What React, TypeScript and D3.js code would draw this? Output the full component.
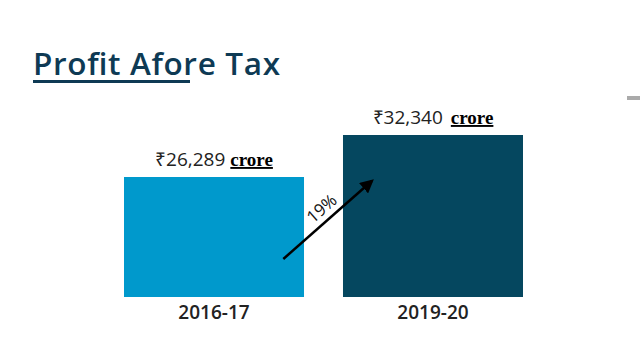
import React from "react";
import * as d3 from "d3";

const categories = ["2016-17", "2019-20"];
const values = [26289, 32340];
const valueLabels = ["₹26,289", "₹32,340"];
const unitLabel = "crore";
const growthLabel = "19%";
const titleText = "Profit Afore Tax";
const colors = ["#0099CC", "#05475F"];

export default function App() {
  const W = 640, H = 360;
  const x = d3.scaleBand().domain(categories).range([124, 523]).paddingInner(0.178).paddingOuter(0);
  const y = d3.scaleLinear().domain([9000, 32340]).range([297, 135]);
  const bw = x.bandwidth();
  const x0 = (x(categories[0]) as number) + bw * 0.885;
  const y0 = y(values[0]) + 82;
  const x1 = (x(categories[1]) as number) + bw * 0.16;
  const y1 = y(values[1]) + 46;
  return (
    <svg width={W} height={H} style={{ position: "absolute", left: 0, top: 0, background: "#fff" }}>
      <defs>
        <marker id="ah" viewBox="0 0 10 10" refX="8" refY="5" markerWidth="5.5" markerHeight="5.5" orient="auto">
          <path d="M0,0 L10,5 L0,10 z" fill="#000" />
        </marker>
      </defs>
      <text x={33} y={75} fontFamily="'Open Sans', sans-serif" fontWeight={600} fontSize={31.5} fill="#0E3A54" textLength={247} lengthAdjust="spacing">{titleText}</text>
      <rect x={33} y={80} width={157} height={3} fill="#0E3A54" />
      <rect x={627} y={96} width={13} height={4} fill="#aaa" />
      {categories.map((c, i) => {
        const bx = x(c) as number;
        const cx = bx + bw / 2;
        return (
          <g key={c}>
            <rect x={bx} y={y(values[i])} width={bw} height={297 - y(values[i])} fill={colors[i]} />
            <text x={cx} y={y(values[i]) - 11} textAnchor="middle" fontSize={19}>
              <tspan fontFamily="'Open Sans', sans-serif" fontWeight={500} fill="#222">{valueLabels[i]}</tspan>
              <tspan fontFamily="'Liberation Serif', serif" fontWeight={700} fill="#000" textDecoration="underline" dx={i === 1 ? 8 : 5}>{unitLabel}</tspan>
            </text>
            <text x={cx} y={319} textAnchor="middle" fontFamily="'Open Sans', sans-serif" fontWeight={600} fontSize={19} fill="#222">{c}</text>
          </g>
        );
      })}
      <line x1={x0} y1={y0} x2={x1} y2={y1} stroke="#000" strokeWidth={2.5} markerEnd="url(#ah)" />
      <text transform={`translate(${(x0 + x1) / 2 - 2},${(y0 + y1) / 2 - 7}) rotate(-41)`} textAnchor="middle" fontFamily="'Open Sans', sans-serif" fontSize={17} fill="#111">{growthLabel}</text>
    </svg>
  );
}
